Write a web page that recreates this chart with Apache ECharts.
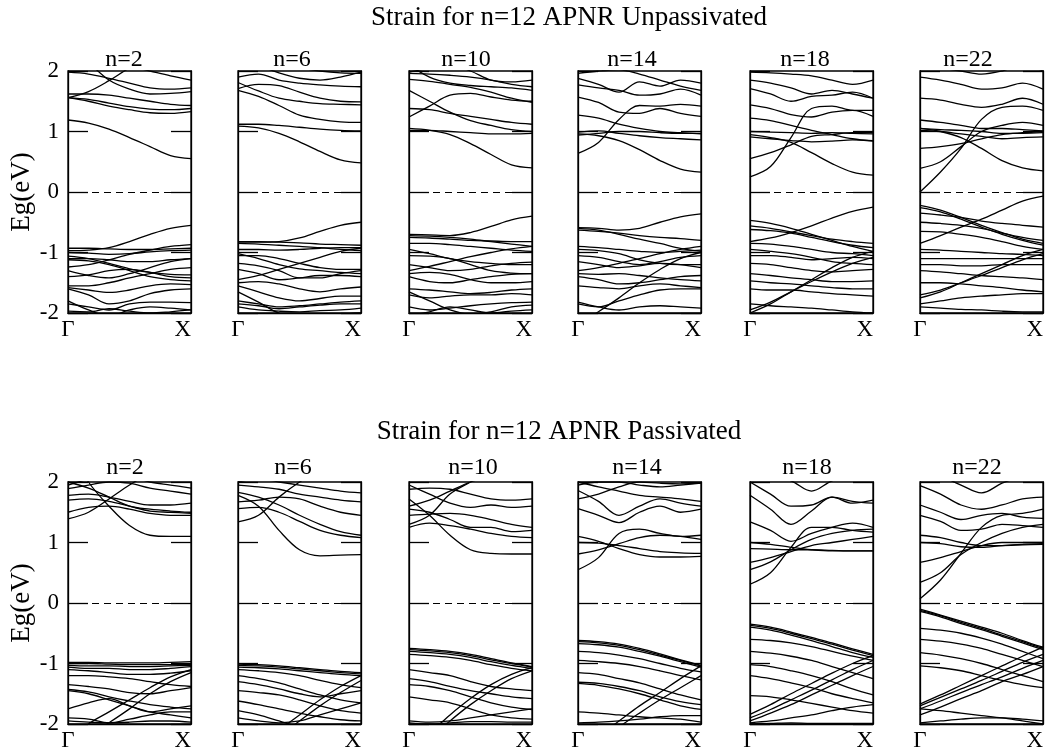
<!DOCTYPE html>
<html>
<head>
<meta charset="utf-8">
<script src="https://cdn.jsdelivr.net/npm/echarts@6/dist/echarts.min.js"></script>
<style>
html,body{margin:0;padding:0;background:#fff;}
#chart{width:1053px;height:753px;}
</style>
</head>
<body>
<div id="chart"></div>
<script>
// k-points along Γ -> X (fractional)
const K = [0, 1/6, 2/6, 3/6, 4/6, 5/6, 1];
const panelLabels = ['n=2', 'n=6', 'n=10', 'n=14', 'n=18', 'n=22'];
const rowTitles = ['Strain for n=12 APNR Unpassivated', 'Strain for n=12 APNR Passivated'];
const yAxisName = 'Eg(eV)';
const kLabels = ['Γ', 'X'];

// ---------- Unpassivated bands (eV), sampled at K ----------
const unpass_n2 = [
  [1.19,1.14,1.04,0.90,0.75,0.60,0.55],
  [1.56,1.53,1.47,1.41,1.37,1.36,1.38],
  [1.56,1.50,1.42,1.36,1.31,1.30,1.33],
  [1.56,1.66,1.84,2.05,2.2,2.3,2.35],
  [2.5,2.15,1.85,1.70,1.62,1.63,1.66],
  [1.98,1.95,1.88,1.80,1.72,1.70,1.72],
  [2.3,2.25,2.15,2.08,2.0,1.92,1.85],
  [1.62,1.62,1.6,1.55,1.5,1.45,1.43],
  [-0.97,-0.96,-0.92,-0.82,-0.70,-0.60,-0.55],
  [-0.93,-0.93,-0.94,-0.95,-0.95,-0.94,-0.93],
  [-1.00,-1.01,-1.03,-1.02,-0.99,-0.97,-0.96],
  [-1.06,-1.10,-1.18,-1.27,-1.33,-1.36,-1.37],
  [-1.24,-1.20,-1.12,-1.03,-0.96,-0.90,-0.87],
  [-1.12,-1.14,-1.2,-1.3,-1.4,-1.45,-1.47],
  [-1.30,-1.38,-1.42,-1.35,-1.25,-1.15,-1.10],
  [-1.40,-1.37,-1.30,-1.28,-1.33,-1.40,-1.42],
  [-1.55,-1.55,-1.50,-1.42,-1.35,-1.28,-1.25],
  [-1.58,-1.62,-1.66,-1.62,-1.55,-1.52,-1.53],
  [-1.60,-1.70,-1.85,-1.80,-1.68,-1.62,-1.60],
  [-1.85,-1.90,-1.95,-1.85,-1.82,-1.82,-1.83],
  [-1.80,-1.95,-2.05,-1.95,-1.90,-1.92,-1.95],
  [-1.97,-1.98,-1.93,-1.97,-2.0,-1.98,-1.95],
  [-1.1,-1.1,-1.12,-1.15,-1.15,-1.12,-1.1]
];
const unpass_n6 = [
  [1.09,1.06,0.97,0.83,0.67,0.53,0.48],
  [1.12,1.12,1.1,1.07,1.04,1.02,1.01],
  [1.68,1.58,1.43,1.27,1.2,1.16,1.15],
  [1.81,1.67,1.55,1.5,1.46,1.45,1.44],
  [1.71,1.78,1.76,1.65,1.55,1.5,1.49],
  [1.9,1.95,1.85,1.8,1.77,1.75,1.74],
  [2.3,2.1,1.97,1.88,1.85,1.9,1.98],
  [2.2,2.15,2.1,2.05,2.0,1.97,1.96],
  [-0.83,-0.83,-0.82,-0.76,-0.65,-0.55,-0.5],
  [-0.82,-0.82,-0.83,-0.84,-0.86,-0.87,-0.88],
  [-0.85,-0.86,-0.88,-0.9,-0.92,-0.95,-0.97],
  [-0.95,-0.95,-0.96,-0.95,-0.93,-0.92,-0.92],
  [-1.45,-1.38,-1.28,-1.18,-1.08,-0.98,-0.93],
  [-1.02,-1.1,-1.2,-1.27,-1.3,-1.33,-1.35],
  [-1.05,-1.05,-1.1,-1.18,-1.25,-1.28,-1.28],
  [-1.18,-1.22,-1.3,-1.42,-1.42,-1.35,-1.3],
  [-1.28,-1.35,-1.45,-1.42,-1.38,-1.38,-1.4],
  [-1.5,-1.48,-1.52,-1.6,-1.65,-1.6,-1.57],
  [-1.55,-1.65,-1.75,-1.8,-1.76,-1.72,-1.72],
  [-1.8,-1.85,-1.9,-1.88,-1.85,-1.82,-1.8],
  [-1.85,-1.88,-1.93,-1.9,-1.87,-1.85,-1.85],
  [-1.65,-1.82,-2.0,-2.05,-2.05,-2.02,-2.0],
  [-1.9,-1.95,-1.97,-1.98,-1.96,-1.95,-1.92]
];
const unpass_n10 = [
  [1.05,1.02,0.95,0.80,0.62,0.45,0.40],
  [1.02,1.02,1.0,0.98,0.96,0.96,0.97],
  [1.24,1.42,1.6,1.63,1.57,1.52,1.5],
  [1.68,1.5,1.32,1.18,1.1,1.03,1.0],
  [1.38,1.36,1.3,1.25,1.2,1.15,1.12],
  [1.96,1.95,1.93,1.9,1.85,1.78,1.74],
  [1.86,1.83,1.78,1.73,1.65,1.55,1.48],
  [2.1,1.9,1.8,1.76,1.74,1.72,1.68],
  [1.98,2.05,2.1,2.0,1.85,1.82,1.85],
  [-0.7,-0.71,-0.72,-0.67,-0.57,-0.46,-0.4],
  [-0.72,-0.73,-0.75,-0.78,-0.82,-0.86,-0.9],
  [-0.75,-0.76,-0.78,-0.8,-0.81,-0.82,-0.82],
  [-0.85,-0.85,-0.87,-0.9,-0.93,-0.96,-0.98],
  [-1.3,-1.23,-1.15,-1.07,-1.0,-0.94,-0.9],
  [-0.95,-1.02,-1.1,-1.15,-1.18,-1.2,-1.2],
  [-1.05,-1.06,-1.1,-1.2,-1.3,-1.34,-1.35],
  [-1.2,-1.25,-1.3,-1.28,-1.22,-1.18,-1.16],
  [-1.35,-1.33,-1.36,-1.45,-1.5,-1.5,-1.48],
  [-1.4,-1.48,-1.5,-1.45,-1.4,-1.36,-1.35],
  [-1.6,-1.62,-1.65,-1.68,-1.66,-1.62,-1.6],
  [-1.7,-1.75,-1.72,-1.7,-1.7,-1.68,-1.7],
  [-1.65,-1.8,-1.95,-2.02,-1.98,-1.9,-1.87],
  [-1.9,-1.95,-1.92,-1.88,-1.85,-1.83,-1.82],
  [-2.05,-1.98,-1.9,-1.95,-2.0,-1.97,-1.95]
];
const unpass_n14 = [
  [0.96,0.93,0.85,0.70,0.52,0.38,0.33],
  [0.64,0.82,1.2,1.43,1.42,1.45,1.42],
  [0.94,0.97,1.0,1.0,0.98,0.97,0.97],
  [0.99,1.01,0.97,0.93,0.9,0.88,0.86],
  [1.27,1.22,1.12,1.05,1.0,0.98,0.96],
  [1.57,1.48,1.32,1.3,1.38,1.3,1.25],
  [1.88,1.78,1.65,1.82,1.75,1.85,1.8],
  [1.96,2.0,2.02,1.95,1.85,1.75,1.68],
  [1.77,1.72,1.68,1.6,1.62,1.7,1.6],
  [-0.59,-0.6,-0.63,-0.6,-0.5,-0.41,-0.36],
  [-0.6,-0.63,-0.7,-0.78,-0.85,-0.93,-0.98],
  [-0.63,-0.65,-0.68,-0.72,-0.75,-0.77,-0.8],
  [-2.2,-1.98,-1.75,-1.5,-1.28,-1.1,-1.0],
  [-1.3,-1.25,-1.18,-1.1,-1.02,-0.95,-0.9],
  [-0.9,-0.92,-0.95,-0.98,-1.0,-0.98,-0.96],
  [-0.95,-0.97,-1.02,-1.12,-1.18,-1.2,-1.2],
  [-1.05,-1.08,-1.15,-1.2,-1.15,-1.08,-1.05],
  [-1.15,-1.2,-1.25,-1.22,-1.18,-1.2,-1.25],
  [-1.35,-1.36,-1.35,-1.38,-1.42,-1.45,-1.47],
  [-1.4,-1.45,-1.52,-1.5,-1.45,-1.4,-1.38],
  [-1.55,-1.58,-1.6,-1.55,-1.52,-1.55,-1.58],
  [-1.85,-1.9,-1.8,-1.7,-1.62,-1.6,-1.6],
  [-1.82,-1.9,-1.95,-1.9,-1.88,-1.9,-1.92]
];
const unpass_n18 = [
  [0.95,0.9,0.82,0.65,0.47,0.33,0.28],
  [0.25,0.42,0.9,1.38,1.42,1.35,1.35],
  [0.55,0.65,0.78,0.92,0.95,0.98,0.98],
  [0.91,0.88,0.85,0.83,0.84,0.86,0.85],
  [1.0,0.99,0.98,0.97,0.98,0.97,0.96],
  [1.22,1.18,1.1,1.02,0.95,0.88,0.84],
  [1.44,1.38,1.28,1.24,1.32,1.35,1.25],
  [1.71,1.62,1.5,1.58,1.6,1.65,1.55],
  [1.85,1.8,1.72,1.62,1.68,1.62,1.55],
  [1.98,1.97,1.95,1.92,1.85,1.78,1.85],
  [-0.47,-0.52,-0.6,-0.7,-0.8,-0.9,-0.98],
  [-0.82,-0.76,-0.67,-0.56,-0.43,-0.32,-0.25],
  [-0.56,-0.6,-0.66,-0.72,-0.78,-0.82,-0.85],
  [-0.62,-0.64,-0.68,-0.75,-0.82,-0.88,-0.92],
  [-2.0,-1.85,-1.65,-1.45,-1.25,-1.08,-0.98],
  [-1.95,-1.82,-1.65,-1.48,-1.32,-1.18,-1.08],
  [-0.85,-0.86,-0.9,-0.95,-1.0,-1.02,-1.05],
  [-0.95,-0.98,-1.02,-1.08,-1.15,-1.18,-1.2],
  [-1.05,-1.05,-1.08,-1.12,-1.1,-1.08,-1.1],
  [-1.18,-1.2,-1.25,-1.3,-1.32,-1.3,-1.28],
  [-1.35,-1.38,-1.42,-1.45,-1.48,-1.48,-1.47],
  [-1.47,-1.5,-1.52,-1.55,-1.58,-1.6,-1.6],
  [-1.6,-1.62,-1.62,-1.65,-1.68,-1.7,-1.72],
  [-1.85,-1.88,-1.9,-1.92,-1.95,-1.98,-2.0]
];
const unpass_n22 = [
  [1.05,1.0,0.9,0.72,0.52,0.4,0.35],
  [0.0,0.33,0.72,1.2,1.4,1.42,1.35],
  [0.39,0.5,0.75,1.0,1.1,1.15,1.1],
  [0.72,0.75,0.8,0.88,0.95,0.98,1.0],
  [1.05,1.03,1.02,1.0,0.97,0.97,0.98],
  [1.02,1.0,0.96,0.92,0.88,0.9,0.91],
  [1.19,1.15,1.1,1.05,1.05,1.03,1.01],
  [1.55,1.52,1.45,1.4,1.45,1.55,1.45],
  [1.9,1.85,1.78,1.7,1.72,1.8,1.7],
  [2.1,2.05,2.0,1.95,2.0,2.1,2.0],
  [-0.22,-0.3,-0.42,-0.55,-0.67,-0.78,-0.85],
  [-0.26,-0.33,-0.45,-0.58,-0.7,-0.8,-0.88],
  [-0.85,-0.72,-0.58,-0.45,-0.3,-0.15,-0.07],
  [-0.35,-0.38,-0.42,-0.48,-0.52,-0.55,-0.58],
  [-0.5,-0.52,-0.55,-0.6,-0.68,-0.75,-0.8],
  [-0.65,-0.66,-0.7,-0.75,-0.82,-0.9,-0.95],
  [-1.75,-1.65,-1.5,-1.35,-1.2,-1.05,-0.95],
  [-1.7,-1.62,-1.5,-1.38,-1.25,-1.12,-1.02],
  [-0.95,-0.96,-0.98,-1.0,-1.02,-1.03,-1.05],
  [-1.1,-1.1,-1.1,-1.1,-1.1,-1.1,-1.1],
  [-1.2,-1.2,-1.22,-1.22,-1.2,-1.2,-1.2],
  [-1.3,-1.32,-1.35,-1.38,-1.4,-1.42,-1.45],
  [-1.5,-1.5,-1.52,-1.55,-1.58,-1.62,-1.65],
  [-1.85,-1.8,-1.75,-1.72,-1.7,-1.68,-1.68],
  [-1.9,-1.92,-1.94,-1.95,-1.97,-1.98,-1.98]
];

// ---------- Passivated bands (eV), sampled at K ----------
const pass_n2 = [
  [2.6,2.0,1.6,1.28,1.12,1.1,1.1],
  [1.39,1.5,1.72,1.95,2.15,2.3,2.4],
  [1.5,1.58,1.6,1.55,1.48,1.45,1.45],
  [1.7,1.72,1.68,1.6,1.52,1.5,1.48],
  [1.78,1.8,1.75,1.68,1.62,1.62,1.65],
  [1.89,1.95,2.0,1.98,1.9,1.85,1.8],
  [2.0,1.9,1.75,1.6,1.55,1.52,1.5],
  [1.95,2.05,2.15,2.1,2.0,1.95,1.9],
  [-0.98,-0.98,-0.99,-0.99,-0.99,-0.98,-0.97],
  [-1.0,-1.0,-1.01,-1.02,-1.02,-1.02,-1.02],
  [-1.03,-1.04,-1.04,-1.05,-1.05,-1.04,-1.03],
  [-1.06,-1.08,-1.08,-1.1,-1.1,-1.08,-1.05],
  [-1.1,-1.12,-1.15,-1.18,-1.18,-1.16,-1.12],
  [-2.3,-2.0,-1.8,-1.6,-1.4,-1.22,-1.1],
  [-2.4,-2.2,-1.98,-1.75,-1.5,-1.3,-1.15],
  [-1.45,-1.5,-1.6,-1.7,-1.8,-1.85,-1.9],
  [-1.43,-1.47,-1.55,-1.62,-1.68,-1.72,-1.75],
  [-1.35,-1.38,-1.42,-1.48,-1.5,-1.45,-1.4],
  [-1.75,-1.65,-1.58,-1.7,-1.8,-1.75,-1.7],
  [-1.9,-1.92,-1.98,-1.92,-1.85,-1.8,-1.8],
  [-1.95,-1.97,-1.98,-1.97,-1.95,-1.95,-1.97],
  [-1.2,-1.2,-1.22,-1.25,-1.3,-1.35,-1.38]
];
const pass_n6 = [
  [1.78,1.6,1.2,0.88,0.78,0.79,0.8],
  [1.34,1.45,1.75,2.0,2.2,2.3,2.4],
  [1.56,1.58,1.5,1.35,1.2,1.12,1.08],
  [1.67,1.7,1.75,1.72,1.6,1.5,1.45],
  [1.83,1.75,1.62,1.45,1.3,1.18,1.12],
  [1.95,1.92,1.88,1.8,1.75,1.7,1.67],
  [2.0,2.05,2.0,1.95,1.9,1.85,1.82],
  [-1.01,-1.02,-1.04,-1.07,-1.1,-1.13,-1.15],
  [-1.03,-1.04,-1.06,-1.09,-1.12,-1.15,-1.17],
  [-1.06,-1.07,-1.09,-1.12,-1.15,-1.18,-1.2],
  [-2.6,-2.35,-2.1,-1.85,-1.6,-1.38,-1.2],
  [-2.7,-2.45,-2.2,-1.95,-1.7,-1.48,-1.28],
  [-1.2,-1.25,-1.32,-1.42,-1.52,-1.6,-1.65],
  [-1.45,-1.48,-1.52,-1.6,-1.7,-1.78,-1.82],
  [-1.62,-1.68,-1.75,-1.82,-1.88,-1.93,-1.95],
  [-1.78,-1.85,-1.95,-2.05,-2.1,-2.1,-2.1],
  [-1.1,-1.12,-1.15,-1.2,-1.28,-1.35,-1.4],
  [-1.3,-1.35,-1.42,-1.5,-1.55,-1.5,-1.45],
  [-1.9,-1.95,-1.98,-1.95,-1.85,-1.75,-1.65]
];
const pass_n10 = [
  [1.72,1.45,1.12,0.88,0.82,0.81,0.81],
  [1.3,1.45,1.8,2.0,2.2,2.3,2.4],
  [1.6,1.7,1.85,2.0,2.1,2.2,2.2],
  [1.45,1.47,1.48,1.45,1.38,1.3,1.25],
  [1.55,1.5,1.38,1.25,1.25,1.18,1.2],
  [1.25,1.32,1.28,1.22,1.15,1.1,1.08],
  [1.95,1.8,1.65,1.58,1.62,1.58,1.6],
  [1.88,1.9,1.88,1.8,1.72,1.7,1.72],
  [-0.75,-0.77,-0.8,-0.85,-0.92,-0.99,-1.05],
  [-0.77,-0.79,-0.82,-0.87,-0.94,-1.0,-1.06],
  [-0.8,-0.82,-0.85,-0.9,-0.97,-1.03,-1.08],
  [-0.85,-0.87,-0.9,-0.95,-1.02,-1.08,-1.12],
  [-2.4,-2.15,-1.85,-1.58,-1.35,-1.18,-1.07],
  [-2.5,-2.25,-1.95,-1.68,-1.45,-1.25,-1.12],
  [-1.35,-1.38,-1.45,-1.55,-1.65,-1.72,-1.76],
  [-1.55,-1.6,-1.65,-1.75,-1.85,-1.9,-1.92],
  [-1.1,-1.15,-1.2,-1.3,-1.38,-1.42,-1.45],
  [-1.25,-1.3,-1.38,-1.45,-1.5,-1.55,-1.58],
  [-1.95,-1.97,-1.95,-1.9,-1.85,-1.8,-1.75],
  [-1.98,-2.0,-1.98,-1.96,-1.96,-1.97,-1.97]
];
const pass_n14 = [
  [1.1,1.02,0.9,0.8,0.76,0.76,0.77],
  [0.55,0.75,1.15,1.22,1.15,1.1,1.12],
  [0.81,0.88,0.98,1.08,1.12,1.1,1.05],
  [1.0,0.99,0.95,0.9,0.85,0.83,0.82],
  [1.56,1.45,1.33,1.5,1.6,1.5,1.55],
  [1.86,1.68,1.45,1.6,1.72,1.65,1.6],
  [1.95,2.0,2.0,1.95,1.92,1.95,1.98],
  [1.72,1.8,1.92,2.0,1.98,1.97,1.98],
  [2.0,1.92,1.85,1.78,1.75,1.72,1.68],
  [-0.62,-0.64,-0.68,-0.75,-0.84,-0.94,-1.03],
  [-0.64,-0.66,-0.7,-0.77,-0.86,-0.95,-1.04],
  [-0.67,-0.69,-0.73,-0.8,-0.88,-0.97,-1.06],
  [-0.8,-0.82,-0.86,-0.92,-1.0,-1.08,-1.14],
  [-0.95,-0.97,-1.0,-1.05,-1.12,-1.2,-1.27],
  [-2.4,-2.2,-1.95,-1.7,-1.48,-1.25,-1.04],
  [-2.5,-2.3,-2.05,-1.82,-1.6,-1.4,-1.2],
  [-1.31,-1.33,-1.38,-1.45,-1.55,-1.63,-1.68],
  [-1.33,-1.36,-1.42,-1.5,-1.6,-1.7,-1.76],
  [-1.8,-1.82,-1.85,-1.88,-1.9,-1.92,-1.97],
  [-1.15,-1.18,-1.25,-1.32,-1.42,-1.52,-1.6],
  [-1.98,-1.97,-1.95,-1.92,-1.88,-1.86,-1.86]
];
const pass_n18 = [
  [1.0,0.97,0.92,0.88,0.86,0.86,0.86],
  [0.9,0.89,0.88,0.88,0.87,0.86,0.86],
  [0.31,0.5,0.92,1.25,1.25,1.2,1.17],
  [0.55,0.68,0.88,1.05,1.15,1.2,1.22],
  [0.67,0.75,0.85,0.95,1.0,1.05,1.1],
  [1.34,1.2,1.02,1.15,1.25,1.32,1.25],
  [1.78,1.55,1.3,1.52,1.75,1.65,1.7],
  [2.0,1.8,1.6,1.62,1.75,1.68,1.65],
  [2.2,2.1,2.02,1.85,2.02,2.1,2.2],
  [-0.35,-0.4,-0.48,-0.57,-0.66,-0.76,-0.85],
  [-0.37,-0.42,-0.5,-0.59,-0.68,-0.78,-0.87],
  [-0.4,-0.45,-0.53,-0.62,-0.72,-0.82,-0.9],
  [-0.6,-0.62,-0.66,-0.72,-0.8,-0.88,-0.95],
  [-1.84,-1.68,-1.5,-1.33,-1.16,-1.0,-0.87],
  [-1.9,-1.76,-1.6,-1.44,-1.27,-1.1,-0.95],
  [-1.95,-1.82,-1.68,-1.52,-1.36,-1.2,-1.05],
  [-1.02,-1.05,-1.12,-1.2,-1.3,-1.42,-1.52],
  [-1.53,-1.55,-1.6,-1.66,-1.72,-1.78,-1.82],
  [-0.8,-0.83,-0.88,-0.95,-1.05,-1.15,-1.25],
  [-1.2,-1.25,-1.32,-1.4,-1.5,-1.58,-1.65],
  [-1.98,-1.95,-1.9,-1.85,-1.78,-1.72,-1.68],
  [-2.0,-1.99,-1.98,-1.99,-1.99,-1.99,-1.99]
];
const pass_n22 = [
  [0.07,0.38,0.82,1.25,1.45,1.48,1.55],
  [0.34,0.5,0.8,1.0,1.15,1.25,1.3],
  [0.67,0.75,0.85,0.95,1.0,1.0,1.0],
  [1.0,0.98,0.93,0.92,0.95,0.97,0.98],
  [1.12,1.08,1.0,0.95,0.95,0.96,0.97],
  [1.45,1.35,1.2,1.22,1.3,1.28,1.25],
  [1.62,1.5,1.38,1.45,1.48,1.42,1.4],
  [1.94,1.8,1.62,1.55,1.62,1.72,1.75],
  [2.2,2.1,1.95,1.82,1.98,2.1,2.2],
  [-0.1,-0.2,-0.3,-0.4,-0.5,-0.62,-0.73],
  [-0.12,-0.21,-0.32,-0.42,-0.53,-0.64,-0.75],
  [-0.14,-0.23,-0.34,-0.44,-0.55,-0.66,-0.77],
  [-0.42,-0.45,-0.5,-0.58,-0.68,-0.8,-0.92],
  [-0.6,-0.63,-0.68,-0.75,-0.85,-0.95,-1.05],
  [-1.67,-1.52,-1.36,-1.2,-1.04,-0.88,-0.73],
  [-1.7,-1.56,-1.42,-1.28,-1.13,-0.98,-0.85],
  [-1.75,-1.62,-1.48,-1.35,-1.22,-1.08,-0.95],
  [-1.85,-1.72,-1.58,-1.45,-1.3,-1.18,-1.05],
  [-0.82,-0.86,-0.92,-1.0,-1.1,-1.2,-1.3],
  [-1.04,-1.07,-1.12,-1.2,-1.28,-1.35,-1.4],
  [-1.75,-1.78,-1.82,-1.86,-1.9,-1.95,-2.0],
  [-1.98,-1.95,-1.92,-1.9,-1.9,-1.92,-1.95]
];

const panels = [
  unpass_n2, unpass_n6, unpass_n10, unpass_n14, unpass_n18, unpass_n22,
  pass_n2, pass_n6, pass_n10, pass_n14, pass_n18, pass_n22
];

// ---------- layout ----------
const FONT = "'Liberation Serif','DejaVu Serif',serif";
const gridLefts = [68, 238, 409, 578, 750, 920];
const gridWidth = 123;
const gridTops = [71, 482];
const gridHeight = 242;
const panelTitleX = [[124, 292, 466, 632, 805, 968], [125, 293, 473, 637, 807, 977]];
const panelTitleY = [60, 468];
const rowTitlePos = [[569, 18], [559, 432]];

const grids = [], xAxes = [], yAxes = [], series = [];
panels.forEach((bands, p) => {
  const row = Math.floor(p / 6), col = p % 6;
  grids.push({
    left: gridLefts[col], top: gridTops[row], width: gridWidth, height: gridHeight,
    show: true, borderColor: '#000', borderWidth: 1.3, backgroundColor: 'transparent'
  });
  xAxes.push({
    gridIndex: p, type: 'value', min: 0, max: 1, interval: 1, position: 'bottom',
    axisLine: { show: true, onZero: false, lineStyle: { color: '#000', width: 1.3 } },
    axisTick: { show: false }, splitLine: { show: false },
    axisLabel: {
      formatter: v => (v === 0 ? kLabels[0] : (v === 1 ? kLabels[1] : '')),
      fontFamily: FONT, fontSize: 23, color: '#000', margin: 5,
      showMinLabel: true, showMaxLabel: true, alignMaxLabel: 'right'
    }
  });
  ['left', 'right'].forEach(pos => {
    const labelled = (pos === 'left' && col === 0);
    yAxes.push({
      gridIndex: p, type: 'value', min: -2, max: 2, interval: 1, position: pos,
      axisLine: { show: true, onZero: false, lineStyle: { color: '#000', width: 1.3 } },
      axisTick: { show: true, inside: true, length: 20, lineStyle: { color: '#000', width: 1.3 } },
      splitLine: { show: false },
      axisLabel: { show: labelled, fontFamily: FONT, fontSize: 23, color: '#000', margin: 9 },
      name: labelled ? yAxisName : '',
      nameLocation: 'middle', nameGap: 33,
      nameTextStyle: { fontFamily: FONT, fontSize: 27, color: '#000' }
    });
  });
  bands.forEach((band, b) => {
    const s = {
      type: 'line', xAxisIndex: p, yAxisIndex: 2 * p,
      data: K.map((k, j) => [k, band[j]]),
      smooth: 0.35, symbol: 'none', silent: true, clip: true,
      lineStyle: { color: '#000', width: 1.3 }
    };
    if (b === 0) {
      s.markLine = {
        silent: true, symbol: 'none', animation: false,
        label: { show: false },
        lineStyle: { color: '#000', width: 1.2, type: [7, 5] },
        data: [{ yAxis: 0 }]
      };
    }
    series.push(s);
  });
});

const graphics = [];
rowTitles.forEach((t, r) => {
  graphics.push({
    type: 'text', x: rowTitlePos[r][0], y: rowTitlePos[r][1],
    style: { text: t, font: '27px ' + FONT, fill: '#000', textAlign: 'center', textVerticalAlign: 'middle' }
  });
  panelLabels.forEach((lab, c) => {
    graphics.push({
      type: 'text', x: panelTitleX[r][c], y: panelTitleY[r],
      style: { text: lab, font: '24px ' + FONT, fill: '#000', textAlign: 'center', textVerticalAlign: 'middle' }
    });
  });
});

const chart = echarts.init(document.getElementById('chart'), null, { renderer: 'canvas' });
chart.setOption({
  animation: false,
  backgroundColor: '#fff',
  grid: grids, xAxis: xAxes, yAxis: yAxes, series: series,
  graphic: graphics
});
</script>
</body>
</html>
